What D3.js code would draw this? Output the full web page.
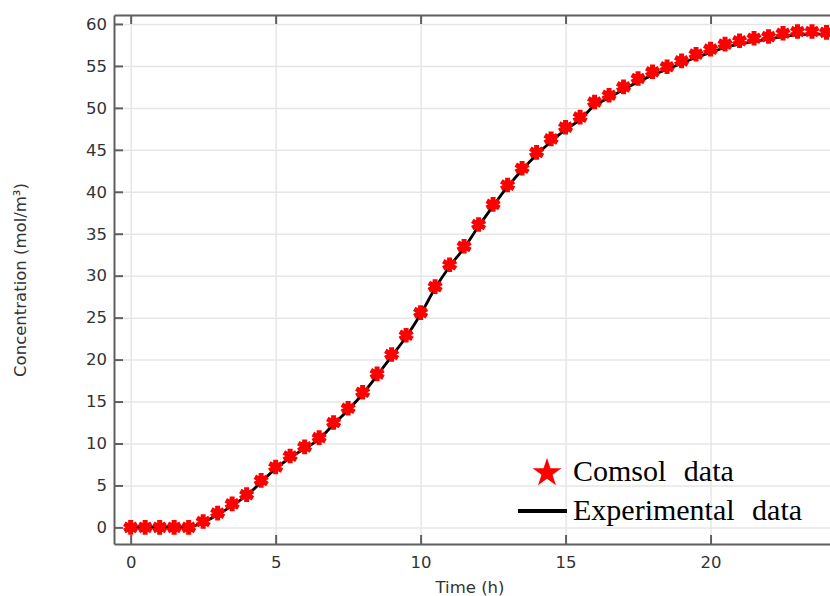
<!DOCTYPE html>
<html>
<head>
<meta charset="utf-8">
<script src="https://cdn.jsdelivr.net/npm/d3@7"></script>
<style>
  body { margin: 0; background: #fff; }
  svg { display: block; }
</style>
</head>
<body>
<svg id="chart"></svg>
<script>
// Data
let times = [0, 0.5, 1, 1.5, 2, 2.5, 3, 3.5, 4, 4.5, 5, 5.5, 6, 6.5, 7, 7.5, 8, 8.5, 9, 9.5,
  10, 10.5, 11, 11.5, 12, 12.5, 13, 13.5, 14, 14.5, 15, 15.5, 16, 16.5, 17, 17.5, 18, 18.5, 19, 19.5,
  20, 20.5, 21, 21.5, 22, 22.5, 23, 23.5, 24];
let comsol = [0, 0, 0, 0, 0, 0.7, 1.7, 2.8, 3.9, 5.6, 7.2, 8.5, 9.6, 10.7, 12.5, 14.2, 16.1, 18.3, 20.6, 22.9,
  25.6, 28.7, 31.3, 33.5, 36.1, 38.5, 40.8, 42.8, 44.7, 46.3, 47.7, 48.9, 50.7, 51.5, 52.5, 53.5, 54.3, 54.9, 55.6, 56.4,
  57.0, 57.6, 58.0, 58.3, 58.5, 58.9, 59.1, 59.1, 59.0];
let experimental = [0, 0, 0, 0, 0, 0.6, 1.5, 2.6, 3.8, 5.4, 7.0, 8.3, 9.4, 10.5, 12.3, 14.0, 15.9, 18.1, 20.4, 22.7,
  25.4, 28.5, 31.1, 33.3, 35.9, 38.3, 40.6, 42.6, 44.4, 46.0, 47.4, 48.6, 50.3, 51.2, 52.2, 53.1, 53.9, 54.6, 55.3, 56.0,
  56.6, 57.2, 57.6, 57.9, 58.2, 58.5, 58.7, 58.8, 58.8];
let xTicks = [0, 5, 10, 15, 20];
let yTicks = [0, 5, 10, 15, 20, 25, 30, 35, 40, 45, 50, 55, 60];
let legendLabels = ["Comsol data", "Experimental data"];

// Colors
let mred = "#ff0000";
let frameColor = "#5f5f5f";
let gridColor = "#e6e6e6";

let width = 830;
let height = 596;
let plotLeft = 114, plotRight = 830, plotTop = 15, plotBottom = 544;

let svg = d3.select("#chart")
  .attr("width", width)
  .attr("height", height);

let xax = d3.scaleLinear()
  .domain([-0.575, 24.12])
  .range([plotLeft, plotRight]);
let yax = d3.scaleLinear()
  .domain([-1.98, 61.07])
  .range([plotBottom, plotTop]);

// grid
svg.append("g")
  .attr("transform", `translate(0, ${plotBottom})`)
  .call(d3.axisBottom(xax).tickValues(xTicks).tickSize(-(plotBottom - plotTop)).tickFormat(""))
  .call(g => g.select(".domain").remove())
  .call(g => g.selectAll("line").attr("stroke", gridColor).attr("stroke-width", 1.5));
svg.append("g")
  .attr("transform", `translate(${plotLeft}, 0)`)
  .call(d3.axisLeft(yax).tickValues(yTicks).tickSize(-(plotRight - plotLeft)).tickFormat(""))
  .call(g => g.select(".domain").remove())
  .call(g => g.selectAll("line").attr("stroke", gridColor).attr("stroke-width", 1.5));

// experimental line
let line = d3.line()
  .x((d, i) => xax(times[i]))
  .y(d => yax(d))
  .curve(d3.curveMonotoneX);
svg.append("path")
  .attr("d", line(experimental))
  .attr("fill", "none")
  .attr("stroke", "black")
  .attr("stroke-width", 2.8);

// comsol markers
let star = d3.symbol().type(d3.symbolAsterisk).size(150);
svg.append("g")
  .selectAll("path")
  .data(comsol)
  .join("path")
    .attr("d", star)
    .attr("transform", (d, i) => `translate(${xax(times[i])}, ${yax(d)})`)
    .attr("fill", "none")
    .attr("stroke", mred)
    .attr("stroke-width", 5);

// axes / frame
function styleAxis(g) {
  g.select(".domain").attr("stroke", frameColor).attr("stroke-width", 2);
  g.selectAll(".tick line").attr("stroke", frameColor).attr("stroke-width", 2);
  g.selectAll("text")
    .attr("fill", "#333")
    .style("font-family", "DejaVu Sans, sans-serif")
    .style("font-size", "16.5px");
}
svg.append("g")
  .attr("transform", `translate(0, ${plotBottom})`)
  .call(d3.axisBottom(xax).tickValues(xTicks).tickSize(-9).tickSizeOuter(0).tickPadding(12))
  .call(styleAxis);
svg.append("g")
  .attr("transform", `translate(0, ${plotTop})`)
  .call(d3.axisTop(xax).tickValues(xTicks).tickSize(-9).tickSizeOuter(0).tickFormat(""))
  .call(styleAxis);
svg.append("g")
  .attr("transform", `translate(${plotLeft}, 0)`)
  .call(d3.axisLeft(yax).tickValues(yTicks).tickSize(-9).tickSizeOuter(0).tickPadding(7))
  .call(styleAxis);

// axis titles
svg.append("text")
  .attr("x", 470)
  .attr("y", 593)
  .attr("text-anchor", "middle")
  .attr("fill", "#333")
  .style("font-family", "DejaVu Sans, sans-serif")
  .style("font-size", "16.5px")
  .text("Time (h)");
svg.append("text")
  .attr("transform", "rotate(-90)")
  .attr("x", -280)
  .attr("y", 20)
  .attr("dy", "0.35em")
  .attr("text-anchor", "middle")
  .attr("fill", "#333")
  .style("font-family", "DejaVu Sans, sans-serif")
  .style("font-size", "16.5px")
  .text("Concentration (mol/m³)");

// legend
let legend = svg.append("g");
legend.append("path")
  .attr("d", d3.symbol().type(d3.symbolStar).size(260))
  .attr("transform", "translate(547, 473)")
  .attr("fill", mred);
legend.append("line")
  .attr("x1", 518).attr("x2", 567)
  .attr("y1", 511).attr("y2", 511)
  .attr("stroke", "black")
  .attr("stroke-width", 4);
legend.selectAll("text")
  .data(legendLabels)
  .join("text")
    .attr("x", 573)
    .attr("y", (d, i) => 481 + i * 39)
    .attr("fill", "black")
    .style("font-family", "Liberation Serif, Times New Roman, serif")
    .style("font-size", "30px")
    .style("word-spacing", "10px")
    .text(d => d);
</script>
</body>
</html>
